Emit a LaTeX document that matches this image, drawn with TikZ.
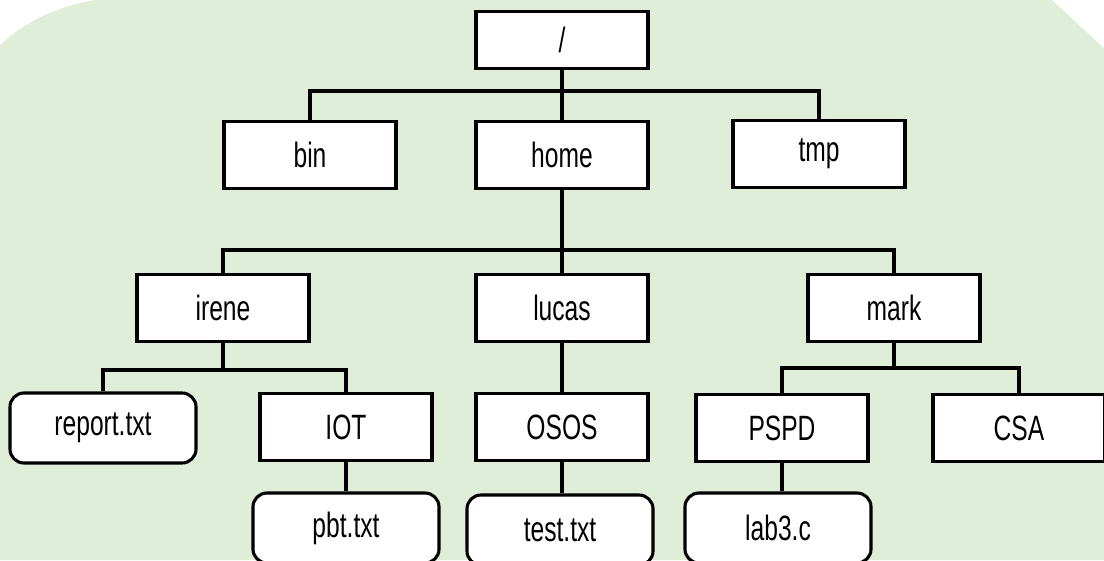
\documentclass[tikz,border=0pt]{standalone}
\usepackage{fontspec}
\setmainfont{Liberation Sans}[FakeStretch=0.7]
\definecolor{bggreen}{RGB}{224,237,216}

\tikzset{
  dirbox/.style={draw, line width=2.2pt, fill=white, minimum width=4.3cm,
    minimum height=1.675cm, font=\fontsize{25}{30}\selectfont},
  rootbox/.style={dirbox, minimum height=1.425cm},
  filebox/.style={dirbox, rounded corners=0.35cm, minimum width=4.65cm,
    minimum height=1.75cm},
  wire/.style={line width=2.2pt}
}

\begin{document}
\begin{tikzpicture}[x=0.025cm, y=-0.025cm]
  \useasboundingbox (0,0) rectangle (1104,560);
  \clip (0,0) rectangle (1104,560);

  % Background
  \fill[bggreen] (0,560) -- (0,45) .. controls (25,22) and (55,7) .. (95,0)
    -- (1052,0) -- (1104,48) -- (1104,560) -- cycle;

  % Root and first level
  \node[rootbox] (root) at (562,40) {/};
  \node[dirbox] (bin) at (310,155) {bin};
  \node[dirbox] (home) at (562,155) {home};
  \node[dirbox] (tmp) at (819,154) {tmp};

  % Users
  \node[dirbox] (irene) at (223,308) {irene};
  \node[dirbox] (lucas) at (562,308) {lucas};
  \node[dirbox] (mark) at (894,308) {mark};

  % Third level
  \node[filebox] (report) at (103,428) {report.txt};
  \node[dirbox] (iot) at (346,427) {IOT};
  \node[dirbox] (osos) at (562,427) {OSOS};
  \node[dirbox] (pspd) at (782,428) {PSPD};
  \node[dirbox] (csa) at (1019,428) {CSA};

  % Files
  \node[filebox] (pbt) at (346,528) {pbt.txt};
  \node[filebox] (test) at (560,530) {test.txt};
  \node[filebox] (lab) at (778,528) {lab3.c};

  % Junctions
  \coordinate (j1) at (562,91);
  \coordinate (j2) at (562,250);
  \coordinate (j3) at (223,370);
  \coordinate (j4) at (894,368);

  % Connectors
  \draw[wire] (root.south) -- (home.north);
  \draw[wire] (bin.north) |- (j1) -| (tmp.north);
  \draw[wire] (home.south) -- (lucas.north);
  \draw[wire] (irene.north) |- (j2) -| (mark.north);
  \draw[wire] (irene.south) -- (j3);
  \draw[wire] (report.north) |- (j3) -| (iot.north);
  \draw[wire] (lucas.south) -- (osos.north);
  \draw[wire] (mark.south) -- (j4);
  \draw[wire] (pspd.north) |- (j4) -| (csa.north);
  \draw[wire] (iot.south) -- (pbt.north);
  \draw[wire] (osos.south) -- (osos.south |- test.north);
  \draw[wire] (pspd.south) -- (pspd.south |- lab.north);
\end{tikzpicture}
\end{document}
